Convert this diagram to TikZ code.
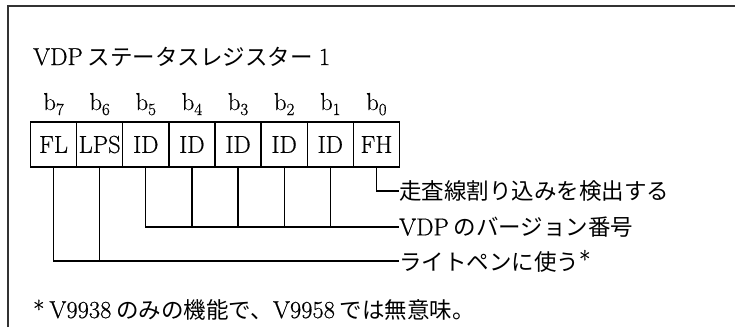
\documentclass[tikz,border=0pt]{standalone}
\usepackage{fontspec}
\setmainfont{Latin Modern Roman}[FakeBold=0.6]
\newfontfamily\jp{Noto Sans CJK JP}
\newcommand{\lat}{\fontsize{24.5}{29}\selectfont}
\newcommand{\jps}{\jp\fontsize{22.5}{27}\selectfont}
\tikzset{
  bitbox/.style={draw, line width=1.3pt, minimum width=46.125pt, minimum height=45pt, inner sep=0pt, font=\lat},
  bitlbl/.style={inner sep=0pt, anchor=base, font=\lat},
  lbl/.style={inner sep=0pt, anchor=west, font=\lat},
  txt/.style={inner sep=0pt, anchor=base west, font=\lat},
  conn/.style={line width=1.3pt},
  frame/.style={line width=2pt, draw=black!80}
}
\begin{document}
\begin{tikzpicture}[x=1pt,y=-1pt]
\useasboundingbox (0,0) rectangle (735,327);
\draw[frame] (7.5,327) -- (7.5,5.5) -- (735,5.5);
\node[txt] (title) at (33,65) {VDP\hspace{5pt}{\jps ステータスレジスター}\hspace{6pt}1};
\foreach \i/\n/\t in {0/7/FL,1/6/LPS,2/5/ID,3/4/ID,4/3/ID,5/2/ID,6/1/\raisebox{-3pt}{ID},7/0/FH}{
  \node[bitbox] (b\n) at ({53.56+46.125*\i},144.5) {\t};
  \node[bitlbl] (l\n) at ({53.56+46.125*\i},110) {b\raisebox{-5pt}{\fontsize{17}{20}\selectfont\n}};
}
\node[lbl] (t0) at (399,191) {\jps 走査線割り込みを検出する};
\node[lbl] (t1) at (399,227) {VDP\hspace{5pt}{\jps のバージョン番号}};
\node[lbl] (t2) at (399,261) {{\jps ライトペンに使う}\raisebox{2pt}{*}};
\draw[conn] (b0.south) |- (t0.west);
\draw[conn] (b5.south) |- (t1.west);
\foreach \n in {4,3,2,1} \draw[conn] (b\n.south) -- (b\n.south |- t1.west);
\draw[conn] (b7.south) |- (t2.west);
\draw[conn] (b6.south) -- (b6.south |- t2.west);
\node[txt] (foot) at (33,318) {*\hspace{5pt}V9938\hspace{5pt}{\jps のみの機能で、}V9958\hspace{5pt}{\jps では無意味。}};
\end{tikzpicture}
\end{document}
